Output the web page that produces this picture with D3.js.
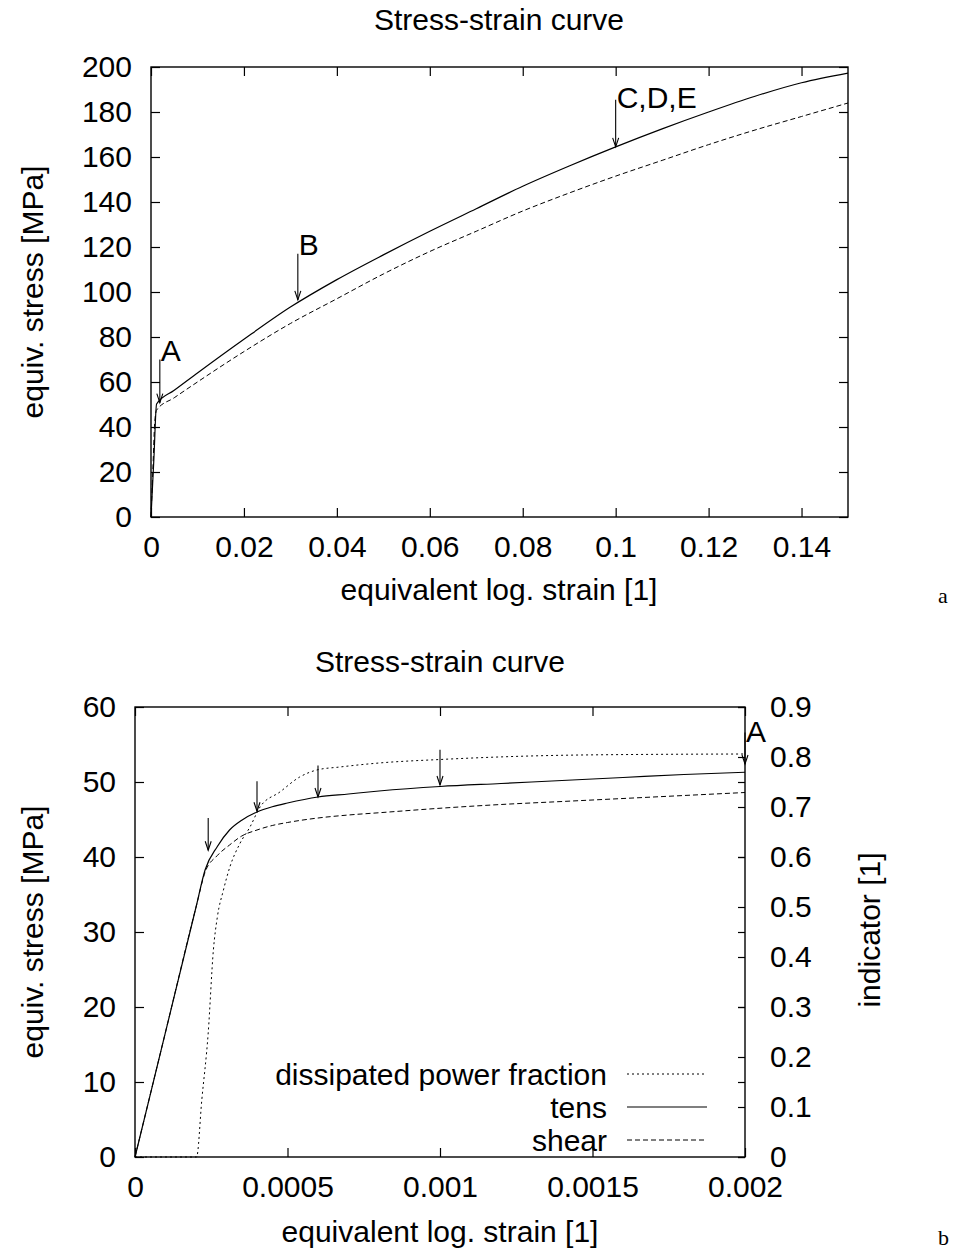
<!DOCTYPE html>
<html>
<head>
<meta charset="utf-8">
<script src="https://cdn.jsdelivr.net/npm/d3@7"></script>
<style>
  body { margin: 0; background: #fff; }
  text { font-family: "Liberation Sans", Arial, sans-serif; fill: #000; }
</style>
</head>
<body>
<svg id="chart" width="962" height="1250"></svg>
<script>
// ---- chart a: full strain range ----
const strainA = [0, 0.0006, 0.0012, 0.005, 0.01, 0.02, 0.03, 0.04, 0.05, 0.06, 0.07, 0.08, 0.09, 0.1, 0.11, 0.12, 0.13, 0.14, 0.15];
const tensA   = [0, 25, 50.2, 56.3, 64, 79, 93.3, 105.5, 116.5, 127, 137, 147, 156, 164.5, 172.5, 180, 187, 193, 197.3];
const strainShearA = [0, 0.0004, 0.0008, 0.0012, 0.005, 0.01, 0.02, 0.03, 0.04, 0.05, 0.06, 0.07, 0.08, 0.09, 0.1, 0.11, 0.12, 0.13, 0.14, 0.15];
const shearA  = [0, 21, 42, 47.5, 53, 60, 73.5, 86, 97, 108, 118, 127, 136, 144, 151.5, 158.5, 165.5, 172, 178, 184];
const arrowXA = [0.0019, 0.0316, 0.1];
const arrowFromA = [70, 117, 185.5];
const arrowToA = [50.8, 96.5, 164.5];
const arrowLabelA = ["A", "B", "C,D,E"];
const labelYA = [73.8, 121, 186.4];
const xTicksA = [0, 0.02, 0.04, 0.06, 0.08, 0.1, 0.12, 0.14];
const yTicksA = [0, 20, 40, 60, 80, 100, 120, 140, 160, 180, 200];

// ---- chart b: zoom on the yield region ----
const strainB = [0, 0.0001, 0.0002, 0.00023, 0.00027, 0.00031, 0.00035, 0.0004, 0.00045, 0.0005, 0.0006, 0.0007, 0.0008, 0.001, 0.0012, 0.0014, 0.0016, 0.0018, 0.002];
const tensB   = [0, 16.65, 33.3, 38.3, 41.4, 43.6, 44.9, 46.0, 46.7, 47.2, 48.0, 48.4, 48.8, 49.4, 49.8, 50.2, 50.6, 51.0, 51.3];
const shearB  = [0, 16.65, 33.3, 38.0, 40.2, 41.6, 42.8, 43.6, 44.2, 44.6, 45.2, 45.6, 45.9, 46.5, 47.0, 47.4, 47.8, 48.2, 48.6];
const strainDiss = [0, 0.000202, 0.000219, 0.00024, 0.000257, 0.00027, 0.00029, 0.000311, 0.000344, 0.000377, 0.00041, 0.000475, 0.00054, 0.000596, 0.000672, 0.0008, 0.001, 0.00146, 0.002];
const dissB = [0, 0, 0.114, 0.248, 0.414, 0.48, 0.534, 0.58, 0.627, 0.66, 0.70, 0.73, 0.76, 0.774, 0.78, 0.788, 0.795, 0.804, 0.806];
const arrowXB = [0.00024, 0.0004, 0.0006, 0.001, 0.002];
const arrowFromB = [45.2, 50.1, 52.2, 54.3, 56.6];
const arrowToB = [40.9, 46.1, 48.0, 49.6, 52.4];
const xTicksB = [0, 0.0005, 0.001, 0.0015, 0.002];
const yTicksB = [0, 10, 20, 30, 40, 50, 60];
const y2TicksB = [0, 0.1, 0.2, 0.3, 0.4, 0.5, 0.6, 0.7, 0.8, 0.9];
const legendNames = ["dissipated power fraction", "tens", "shear"];

const svg = d3.select("#chart");
const fs = 30;
const DOTTED = "2,3", DASHED = "5,3";

function styleAxis(g) {
  g.select(".domain").remove();
  g.selectAll("line").attr("stroke", "#000").attr("stroke-width", 1.2);
  g.selectAll("text").attr("font-size", fs).attr("font-family", "Liberation Sans, Arial, sans-serif");
}

function drawArrow(g, x, y1, y2) {
  g.append("line").attr("x1", x).attr("x2", x).attr("y1", y1).attr("y2", y2)
    .attr("stroke", "#000").attr("stroke-width", 1.1);
  g.append("path").attr("d", `M${x - 3},${y2 - 9}L${x},${y2}L${x + 3},${y2 - 9}`)
    .attr("fill", "none").attr("stroke", "#000").attr("stroke-width", 1.1);
}

// ================= chart a =================
{
  const x = d3.scaleLinear().domain([0, 0.15]).range([151, 848]);
  const y = d3.scaleLinear().domain([0, 200]).range([517, 67]);
  const g = svg.append("g");
  const fmt = d3.format("~g");

  g.append("g").attr("transform", "translate(0,517)")
    .call(d3.axisBottom(x).tickValues(xTicksA).tickFormat(fmt).tickSizeInner(-9).tickSizeOuter(0).tickPadding(19))
    .call(styleAxis);
  g.append("g").attr("transform", "translate(0,67)")
    .call(d3.axisTop(x).tickValues(xTicksA).tickFormat("").tickSizeInner(-9).tickSizeOuter(0))
    .call(styleAxis);
  g.append("g").attr("transform", "translate(151,0)")
    .call(d3.axisLeft(y).tickValues(yTicksA).tickSizeInner(-9).tickSizeOuter(0).tickPadding(19))
    .call(styleAxis);
  g.append("g").attr("transform", "translate(848,0)")
    .call(d3.axisRight(y).tickValues(yTicksA).tickFormat("").tickSizeInner(-9).tickSizeOuter(0))
    .call(styleAxis);

  g.append("rect").attr("x", 151).attr("y", 67).attr("width", 697).attr("height", 450)
    .attr("fill", "none").attr("stroke", "#000").attr("stroke-width", 1.4);

  const line = d3.line().x(d => x(d[0])).y(d => y(d[1])).curve(d3.curveMonotoneX);
  g.append("path").attr("d", line(d3.zip(strainA, tensA)))
    .attr("fill", "none").attr("stroke", "#000").attr("stroke-width", 1.2);
  g.append("path").attr("d", line(d3.zip(strainShearA, shearA)))
    .attr("fill", "none").attr("stroke", "#000").attr("stroke-width", 1).attr("stroke-dasharray", DASHED);

  arrowXA.forEach((a, i) => {
    drawArrow(g, x(a), y(arrowFromA[i]), y(arrowToA[i]));
    g.append("text").attr("x", x(a) + 1).attr("y", y(labelYA[i])).attr("dy", "0.35em")
      .attr("font-size", fs).text(arrowLabelA[i]);
  });

  g.append("text").attr("x", 499).attr("y", 30).attr("text-anchor", "middle").attr("font-size", fs).text("Stress-strain curve");
  g.append("text").attr("x", 499).attr("y", 600).attr("text-anchor", "middle").attr("font-size", fs).text("equivalent log. strain [1]");
  g.append("text").attr("transform", "translate(43,292) rotate(-90)").attr("text-anchor", "middle").attr("font-size", fs).text("equiv. stress [MPa]");
  g.append("text").attr("x", 938).attr("y", 603).attr("font-size", 22)
    .style("font-family", "Liberation Serif, serif").text("a");
}

// ================= chart b =================
{
  const x = d3.scaleLinear().domain([0, 0.002]).range([135, 745]);
  const y = d3.scaleLinear().domain([0, 60]).range([1157, 707]);
  const y2 = d3.scaleLinear().domain([0, 0.9]).range([1157, 707]);
  const g = svg.append("g");
  const fmt = d3.format("~g");

  g.append("g").attr("transform", "translate(0,1157)")
    .call(d3.axisBottom(x).tickValues(xTicksB).tickFormat(fmt).tickSizeInner(-9).tickSizeOuter(0).tickPadding(19))
    .call(styleAxis);
  g.append("g").attr("transform", "translate(0,707)")
    .call(d3.axisTop(x).tickValues(xTicksB).tickFormat("").tickSizeInner(-9).tickSizeOuter(0))
    .call(styleAxis);
  g.append("g").attr("transform", "translate(135,0)")
    .call(d3.axisLeft(y).tickValues(yTicksB).tickSizeInner(-9).tickSizeOuter(0).tickPadding(19))
    .call(styleAxis);
  g.append("g").attr("transform", "translate(745,0)")
    .call(d3.axisRight(y).tickValues(yTicksB).tickFormat("").tickSizeInner(-7).tickSizeOuter(0))
    .call(styleAxis);
  g.append("g").attr("transform", "translate(745,0)")
    .call(d3.axisRight(y2).tickValues(y2TicksB).tickFormat(fmt).tickSizeInner(-7).tickSizeOuter(0).tickPadding(25))
    .call(styleAxis);

  g.append("rect").attr("x", 135).attr("y", 707).attr("width", 610).attr("height", 450)
    .attr("fill", "none").attr("stroke", "#000").attr("stroke-width", 1.4);

  const line = d3.line().x(d => x(d[0])).y(d => y(d[1])).curve(d3.curveMonotoneX);
  const line2 = d3.line().x(d => x(d[0])).y(d => y2(d[1])).curve(d3.curveMonotoneX);
  g.append("path").attr("d", line2(d3.zip(strainDiss, dissB)))
    .attr("fill", "none").attr("stroke", "#000").attr("stroke-width", 1).attr("stroke-dasharray", DOTTED);
  g.append("path").attr("d", line(d3.zip(strainB, tensB)))
    .attr("fill", "none").attr("stroke", "#000").attr("stroke-width", 1.2);
  g.append("path").attr("d", line(d3.zip(strainB, shearB)))
    .attr("fill", "none").attr("stroke", "#000").attr("stroke-width", 1).attr("stroke-dasharray", DASHED);

  arrowXB.forEach((a, i) => drawArrow(g, x(a), y(arrowFromB[i]), y(arrowToB[i])));
  g.append("text").attr("x", x(0.002) + 1).attr("y", y(56.8)).attr("dy", "0.35em").attr("font-size", fs).text("A");

  // legend
  const dashes = [DOTTED, null, DASHED];
  const widths = [1, 1.2, 1];
  legendNames.forEach((name, i) => {
    const yy = 1074 + i * 33;
    g.append("text").attr("x", 607).attr("y", yy).attr("dy", "0.35em")
      .attr("text-anchor", "end").attr("font-size", fs).text(name);
    g.append("line").attr("x1", 627).attr("x2", 707).attr("y1", yy).attr("y2", yy)
      .attr("stroke", "#000").attr("stroke-width", widths[i]).attr("stroke-dasharray", dashes[i]);
  });

  g.append("text").attr("x", 440).attr("y", 672).attr("text-anchor", "middle").attr("font-size", fs).text("Stress-strain curve");
  g.append("text").attr("x", 440).attr("y", 1242).attr("text-anchor", "middle").attr("font-size", fs).text("equivalent log. strain [1]");
  g.append("text").attr("transform", "translate(43,932) rotate(-90)").attr("text-anchor", "middle").attr("font-size", fs).text("equiv. stress [MPa]");
  g.append("text").attr("transform", "translate(880,930) rotate(-90)").attr("text-anchor", "middle").attr("font-size", fs).text("indicator [1]");
  g.append("text").attr("x", 938).attr("y", 1245).attr("font-size", 22)
    .style("font-family", "Liberation Serif, serif").text("b");
}
</script>
</body>
</html>
